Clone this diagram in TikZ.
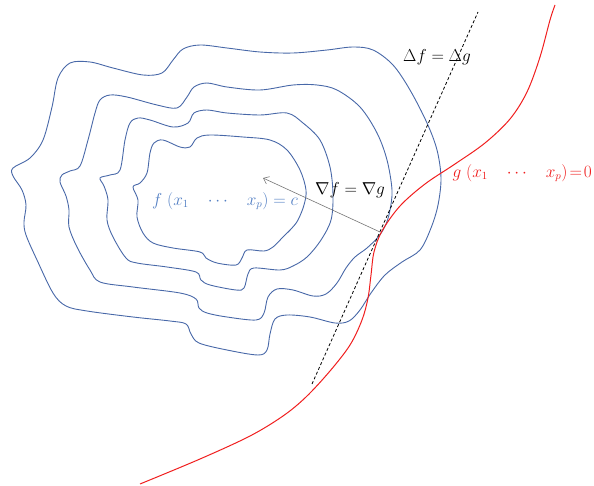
\documentclass[tikz,border=0pt]{standalone}
\usepackage{amsmath}
\usetikzlibrary{arrows.meta}
\definecolor{contourblue}{RGB}{72,104,168}
\definecolor{labelblue}{RGB}{84,128,196}
\definecolor{cred}{RGB}{240,30,30}
\definecolor{arrowgray}{RGB}{120,120,120}
\tikzset{
  contour/.style={draw=contourblue, line width=0.9pt, smooth cycle, tension=0.55},
  constraint/.style={draw=cred, line width=1pt},
  tangent/.style={draw=black, line width=0.8pt, dash pattern=on 3pt off 2.2pt},
  grad/.style={draw=arrowgray, line width=0.6pt, -{Straight Barb[length=5pt,width=8pt]}},
  lab/.style={font=\fontsize{16}{19}\selectfont, inner sep=1pt}
}
\begin{document}
\begin{tikzpicture}[x=1pt,y=-1pt]
\path[use as bounding box] (0,0) rectangle (594,486);

% outer contour
\draw[contour] plot coordinates {
(13,168) (30,158) (43,140) (52,107) (58,78) (70,63) (90,62) (113,68) (143,75) (162,73)
(173,60) (183,49) (200,45) (227,48) (260,52) (293,53) (327,50) (353,47) (373,50)
(393,65) (410,90) (427,123) (437,150) (441,178) (438,205) (431,228) (420,250)
(402,262) (385,275) (371,293) (360,310) (349,321) (335,323) (310,317) (287,315)
(275,319) (270,334) (267,350) (258,355) (227,350) (199,343) (191,334) (186,324)
(170,321) (133,317) (87,311) (66,306) (53,293) (37,260) (26,235) (24,222)
(26,205) (22,190) (13,176)};

% second contour
\draw[contour] plot coordinates {
(62,175) (70,171) (80,166) (88,140) (95,113) (100,100) (110,95) (127,97) (157,105)
(177,108) (187,97) (194,87) (207,83) (227,87) (260,90) (293,85) (317,85) (337,90)
(360,107) (377,133) (387,160) (392,190) (390,210) (386,224) (379,236) (367,248)
(355,257) (346,268) (337,283) (326,294) (313,296) (293,290) (277,289) (268,297)
(264,313) (256,320) (227,317) (207,313) (199,308) (196,299) (180,293) (133,287)
(100,282) (90,270) (77,247) (69,227) (69,210) (66,196) (60,182)};

% third contour
\draw[contour] plot coordinates {
(100,178) (110,175) (120,170) (125,140) (130,123) (138,118) (150,120) (173,127)
(188,123) (194,113) (207,110) (227,113) (260,115) (287,113) (303,123) (320,140)
(330,167) (333,195) (331,220) (321,240) (307,257) (293,266) (280,270) (254,268)
(248,274) (244,288) (236,290) (210,285) (201,280) (196,272) (167,267) (137,263)
(126,258) (113,237) (107,220) (108,200) (104,186)};

% inner contour
\draw[contour] plot coordinates {
(133,187) (140,183) (147,173) (150,153) (154,143) (163,140) (180,147) (190,147)
(197,138) (210,135) (243,137) (270,140) (287,150) (300,170) (306,190) (304,205)
(298,220) (292,228) (283,237) (273,247) (264,251) (247,250) (242,258) (236,265)
(217,263) (206,258) (200,252) (173,248) (153,243) (143,233) (137,217) (138,200)};

% constraint curve
\draw[constraint] plot[smooth, tension=0.55] coordinates {
(140,484) (200,459) (250,436) (283,416) (306,397) (330,371) (350,345) (362,320)
(368,298) (371,275) (374,252) (382,231) (400,206) (425,184) (455,164) (485,143)
(510,119) (527,92) (540,57) (550,20) (555,5)};

% tangent line
\coordinate (D1) at (312,384);
\coordinate (D2) at (478,12);
\draw[tangent] (D1) -- (D2);

% gradient arrow
\coordinate (T) at (380,232);
\coordinate (H) at (263,178);
\draw[grad] (T) -- (H);

% labels
\node[lab, text=black] (ldelta) at (437,57) {$\Delta f = \Delta g$};
\node[lab, text=black] (lnabla) at (350,190) {$\nabla f = \nabla g$};
\node[lab, text=labelblue] (lf) at (225,201) {$f\ (x_1 \quad \cdots \quad x_p) = c$};
\node[lab, text=cred, anchor=east] (lg) at (593,173) {$g\ (x_1 \quad \cdots \quad x_p)\!=\!0$};
\end{tikzpicture}
\end{document}
